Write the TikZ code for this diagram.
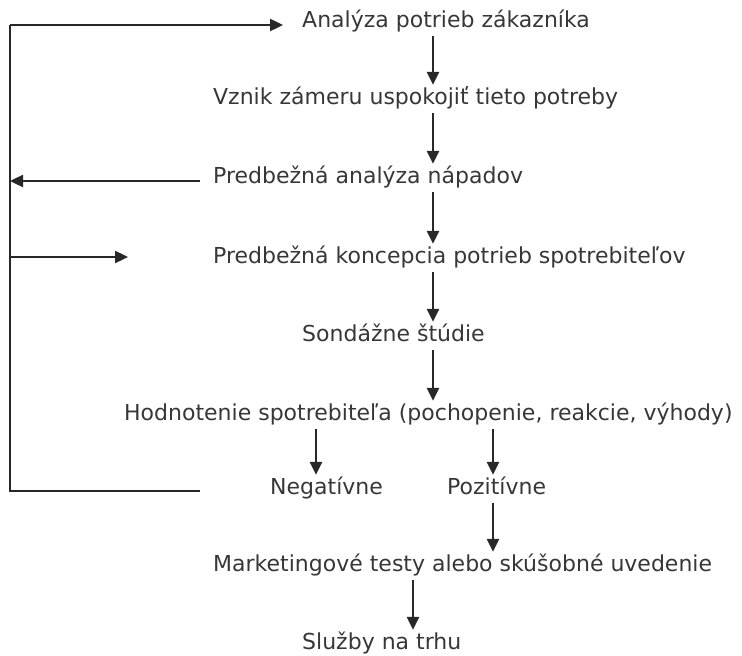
\documentclass[tikz,border=0pt]{standalone}
\usepackage{fontspec}
\setmainfont{DejaVu Sans}
\usetikzlibrary{arrows.meta}
\definecolor{ink}{RGB}{40,40,40}
\definecolor{txt}{RGB}{55,55,55}
\tikzset{
  krok/.style={anchor=base west, inner xsep=0pt, inner ysep=3pt,
    text height=16pt, text depth=6pt, text=txt,
    font=\fontsize{22}{26}\selectfont},
  sipka/.style={ink, line width=2.4pt, -{Triangle[length=13pt,width=12pt]}},
  ciara/.style={ink, line width=2.4pt}
}
\begin{document}
\begin{tikzpicture}[x=1pt,y=-1pt]
\useasboundingbox (0,0) rectangle (742,656);
%
% kroky
\node[krok] (an) at (302,27)  {Analýza potrieb zákazníka};
\node[krok] (vz) at (213,104) {Vznik zámeru uspokojiť tieto potreby};
\node[krok] (pa) at (213,183) {Predbežná analýza nápadov};
\node[krok] (pk) at (213,263) {Predbežná koncepcia potrieb spotrebiteľov};
\node[krok] (sd) at (302,341) {Sondážne štúdie};
\node[krok] (hd) at (124,420) {Hodnotenie spotrebiteľa (pochopenie, reakcie, výhody)};
\node[krok] (ng) at (270,494) {Negatívne};
\node[krok] (pz) at (447,494) {Pozitívne};
\node[krok] (mt) at (213,571) {Marketingové testy alebo skúšobné uvedenie};
\node[krok] (sl) at (302,649) {Služby na trhu};
%
% stlpce sipok
\coordinate (colA) at (433,0);
\coordinate (colN) at (316,0);
\coordinate (colP) at (493,0);
\coordinate (colM) at (413,0);
\foreach \a/\b in {an/vz,vz/pa,pa/pk,pk/sd,sd/hd} {
\draw[sipka] (\a.south -| colA) -- (\b.north -| colA);
}
\draw[sipka] (hd.south -| colN) -- (ng.north -| colN);
\draw[sipka] (hd.south -| colP) -- (pz.north -| colP);
\draw[sipka] (pz.south -| colP) -- (mt.north -| colP);
\draw[sipka] (mt.south -| colM) -- (sl.north -| colM);
%
% spatna vazba vlavo
\coordinate (lt) at (10,25);
\coordinate (lb) at (10,491);
\coordinate (nb) at (200,491);
\coordinate (te) at (283,25);
\coordinate (pa0) at (200,181);
\coordinate (pa1) at (10,181);
\coordinate (pk0) at (10,257);
\coordinate (pk1) at (128,257);
\draw[ciara] (nb) -- (lb) -- (lt);
\draw[sipka] (lt) -- (te);
\draw[sipka] (pa0) -- (pa1);
\draw[sipka] (pk0) -- (pk1);
\end{tikzpicture}
\end{document}
